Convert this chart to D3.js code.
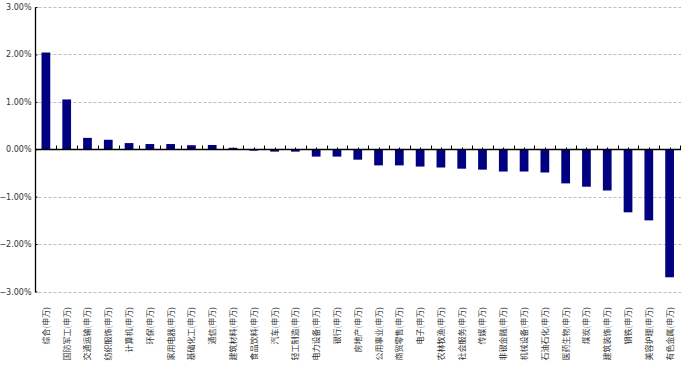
<!DOCTYPE html>
<html>
<head>
<meta charset="utf-8">
<script src="https://cdn.jsdelivr.net/npm/d3@7"></script>
<style>
body { margin: 0; background: #fff; }
svg { display: block; }
</style>
</head>
<body>
<svg width="681" height="373"></svg>
<script>
var svg = d3.select('svg');

var categories = ['综合(申万)', '国防军工(申万)', '交通运输(申万)', '纺织服饰(申万)', '计算机(申万)',
    '环保(申万)', '家用电器(申万)', '基础化工(申万)', '通信(申万)', '建筑材料(申万)',
    '食品饮料(申万)', '汽车(申万)', '轻工制造(申万)', '电力设备(申万)', '银行(申万)',
    '房地产(申万)', '公用事业(申万)', '商贸零售(申万)', '电子(申万)', '农林牧渔(申万)',
    '社会服务(申万)', '传媒(申万)', '非银金融(申万)', '机械设备(申万)', '石油石化(申万)',
    '医药生物(申万)', '煤炭(申万)', '建筑装饰(申万)', '钢铁(申万)', '美容护理(申万)',
    '有色金属(申万)'];
var values = [2.04, 1.05, 0.24, 0.20, 0.13,
    0.11, 0.11, 0.085, 0.09, 0.03,
    -0.03, -0.05, -0.05, -0.155, -0.155,
    -0.22, -0.34, -0.34, -0.365, -0.385,
    -0.41, -0.43, -0.47, -0.47, -0.49,
    -0.72, -0.79, -0.87, -1.33, -1.50,
    -2.70];
var yTicks = [3, 2, 1, 0, -1, -2, -3];

var left = 35.5, right = 680;
var x = d3.scaleBand().domain(categories).range([left, right]).paddingInner(0.58).paddingOuter(0.29);
var y = d3.scaleLinear().domain([-3, 3]).range([291.5, 7]);
var step = x.step();

// grid lines
svg.append('g').selectAll('line').data(yTicks.filter(function(d){ return d != 0; }))
    .enter().append('line')
    .attr('x1', left + 3).attr('x2', 681)
    .attr('y1', function(d){ return Math.round(y(d)) + 0.5; })
    .attr('y2', function(d){ return Math.round(y(d)) + 0.5; })
    .style('stroke', '#bdbdbd')
    .style('stroke-dasharray', '3,2');

// bars
svg.append('g').selectAll('rect').data(values)
    .enter().append('rect')
    .attr('x', function(d, i){ return x(categories[i]); })
    .attr('width', x.bandwidth())
    .attr('y', function(d){ return y(Math.max(0, d)); })
    .attr('height', function(d){ return Math.abs(y(d) - y(0)); })
    .style('fill', '#000080');

// y axis
var yAxis = d3.axisLeft(y).tickValues(yTicks).tickSize(-2)
    .tickFormat(function(d){ return d3.format('.2f')(d) + '%'; });
var gy = svg.append('g').attr('transform', 'translate(' + left + ',0)').call(yAxis);
gy.select('.domain').attr('d', 'M0,' + (Math.round(y(3)) + 0.5) + 'V' + (Math.round(y(-3)) + 0.5))
    .style('stroke', '#000').style('stroke-width', 1.3);
gy.selectAll('.tick line').style('stroke', '#000');
gy.selectAll('.tick text').attr('x', -4)
    .style('font-family', 'Tahoma, "DejaVu Sans", sans-serif')
    .style('font-size', '8px')
    .style('fill', '#333');

// zero line with ticks
var zero = Math.round(y(0)) + 0.5;
var gx = svg.append('g');
gx.append('line').attr('x1', left).attr('x2', 681).attr('y1', zero).attr('y2', zero)
    .style('stroke', '#000').style('stroke-width', 1.3);
gx.selectAll('.major').data(categories).enter().append('line')
    .attr('x1', function(d){ return Math.round(x(d) - step * x.paddingOuter() + step) + 0.5; })
    .attr('x2', function(d){ return Math.round(x(d) - step * x.paddingOuter() + step) + 0.5; })
    .attr('y1', zero).attr('y2', zero - 4)
    .style('stroke', '#000');
gx.selectAll('.minor').data(categories).enter().append('line')
    .attr('x1', function(d){ return Math.round(x(d) + x.bandwidth() / 2) + 0.5; })
    .attr('x2', function(d){ return Math.round(x(d) + x.bandwidth() / 2) + 0.5; })
    .attr('y1', zero).attr('y2', zero - 2)
    .style('stroke', '#000');

// category labels
svg.append('g').selectAll('text').data(categories)
    .enter().append('text')
    .attr('transform', function(d){
        return 'translate(' + (x(d) + x.bandwidth() / 2 + 3) + ',307) rotate(-90)';
    })
    .attr('text-anchor', 'end')
    .style('font-family', '"Noto Sans CJK SC", sans-serif')
    .style('font-size', '8px')
    .style('fill', '#333')
    .text(function(d){ return d; });
</script>
</body>
</html>
